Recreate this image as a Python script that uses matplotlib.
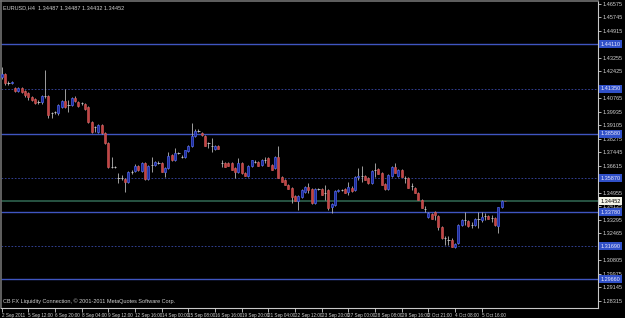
import numpy as np
import matplotlib
matplotlib.use("Agg")
import matplotlib.pyplot as plt
import matplotlib.transforms as mtransforms
from matplotlib import font_manager

plt.rcParams["font.family"] = ["Liberation Sans", "DejaVu Sans"]

# EURUSD H4 candles
opens = [1.4208, 1.4227, 1.4172, 1.4172, 1.4141, 1.4122, 1.4141, 1.4122, 1.4110, 1.4085,
         1.4073, 1.4055, 1.4055, 1.4092, 1.4092, 1.3987, 1.3993, 1.3987, 1.4024, 1.4061,
         1.4036, 1.4036, 1.4079, 1.4055, 1.4049, 1.4042, 1.4024, 1.3932, 1.3901, 1.3870,
         1.3913, 1.3864, 1.3802, 1.3655, 1.3655, 1.3587, 1.3587, 1.3581, 1.3563, 1.3624,
         1.3630, 1.3661, 1.3630, 1.3679, 1.3581, 1.3667, 1.3667, 1.3679, 1.3679, 1.3624,
         1.3649, 1.3729, 1.3698, 1.3741, 1.3716, 1.3716, 1.3753, 1.3784, 1.3846, 1.3876,
         1.3864, 1.3846, 1.3802, 1.3784, 1.3766, 1.3784, 1.3679, 1.3679, 1.3679, 1.3679,
         1.3649, 1.3624, 1.3679, 1.3618, 1.3600, 1.3661, 1.3686, 1.3686, 1.3667, 1.3698,
         1.3710, 1.3667, 1.3649, 1.3716, 1.3593, 1.3575, 1.3544, 1.3526, 1.3477, 1.3446,
         1.3470, 1.3501, 1.3532, 1.3520, 1.3434, 1.3520, 1.3520, 1.3495, 1.3513, 1.3409,
         1.3421, 1.3507, 1.3513, 1.3520, 1.3501, 1.3526, 1.3513, 1.3593, 1.3600, 1.3600,
         1.3587, 1.3557, 1.3636, 1.3643, 1.3618, 1.3550, 1.3520, 1.3600, 1.3655, 1.3600,
         1.3636, 1.3587, 1.3587, 1.3538, 1.3526, 1.3495, 1.3452, 1.3397, 1.3347, 1.3366,
         1.3378, 1.3354, 1.3286, 1.3218, 1.3206, 1.3206, 1.3163, 1.3188, 1.3298, 1.3329,
         1.3323, 1.3298, 1.3298, 1.3335, 1.3329, 1.3354, 1.3354, 1.3341, 1.3341, 1.3292,
         1.3409, 1.34487]
highs = [1.4270, 1.4233, 1.4184, 1.4184, 1.4147, 1.4147, 1.4147, 1.4129, 1.4116, 1.4092,
         1.4079, 1.4067, 1.4098, 1.4252, 1.4098, 1.3993, 1.3999, 1.4042, 1.4067, 1.4135,
         1.4067, 1.4085, 1.4092, 1.4061, 1.4055, 1.4049, 1.4030, 1.3938, 1.3907, 1.3919,
         1.3919, 1.3870, 1.3809, 1.3716, 1.3661, 1.3618, 1.3606, 1.3587, 1.3630, 1.3636,
         1.3673, 1.3667, 1.3686, 1.3686, 1.3667, 1.3716, 1.3692, 1.3692, 1.3686, 1.3655,
         1.3747, 1.3735, 1.3772, 1.3747, 1.3729, 1.3759, 1.3790, 1.3925, 1.3889, 1.3889,
         1.3870, 1.3852, 1.3809, 1.3833, 1.3790, 1.3790, 1.3698, 1.3686, 1.3686, 1.3686,
         1.3655, 1.3710, 1.3686, 1.3624, 1.3667, 1.3698, 1.3698, 1.3692, 1.3704, 1.3716,
         1.3716, 1.3673, 1.3722, 1.3784, 1.3600, 1.3581, 1.3550, 1.3532, 1.3483, 1.3483,
         1.3520, 1.3538, 1.3557, 1.3526, 1.3526, 1.3526, 1.3526, 1.3544, 1.3520, 1.3434,
         1.3513, 1.3520, 1.3520, 1.3526, 1.3563, 1.3538, 1.3600, 1.3649, 1.3661, 1.3606,
         1.3593, 1.3636, 1.3679, 1.3649, 1.3624, 1.3557, 1.3612, 1.3661, 1.3679, 1.3643,
         1.3643, 1.3600, 1.3593, 1.3557, 1.3532, 1.3501, 1.3458, 1.3415, 1.3378, 1.3372,
         1.3384, 1.3360, 1.3292, 1.3231, 1.3231, 1.3218, 1.3188, 1.3304, 1.3335, 1.3378,
         1.3329, 1.3317, 1.3341, 1.3378, 1.3378, 1.3372, 1.3360, 1.3360, 1.3347, 1.3409,
         1.3452, 1.34487]
lows = [1.4196, 1.4159, 1.4159, 1.4165, 1.4116, 1.4116, 1.4110, 1.4085, 1.4067, 1.4061,
        1.4042, 1.4042, 1.4042, 1.4079, 1.3956, 1.3956, 1.3981, 1.3975, 1.4018, 1.4018,
        1.3993, 1.4030, 1.4055, 1.4024, 1.4036, 1.4005, 1.3925, 1.3864, 1.3870, 1.3864,
        1.3858, 1.3796, 1.3649, 1.3649, 1.3649, 1.3557, 1.3575, 1.3501, 1.3557, 1.3612,
        1.3624, 1.3630, 1.3624, 1.3575, 1.3575, 1.3624, 1.3661, 1.3673, 1.3624, 1.3593,
        1.3643, 1.3692, 1.3692, 1.3735, 1.3710, 1.3710, 1.3747, 1.3778, 1.3839, 1.3870,
        1.3846, 1.3784, 1.3772, 1.3747, 1.3759, 1.3766, 1.3655, 1.3655, 1.3661, 1.3636,
        1.3587, 1.3618, 1.3612, 1.3600, 1.3593, 1.3655, 1.3679, 1.3661, 1.3661, 1.3679,
        1.3661, 1.3636, 1.3643, 1.3587, 1.3563, 1.3544, 1.3520, 1.3434, 1.3446, 1.3390,
        1.3464, 1.3495, 1.3495, 1.3427, 1.3427, 1.3513, 1.3483, 1.3452, 1.3390, 1.3372,
        1.3415, 1.3501, 1.3507, 1.3495, 1.3483, 1.3501, 1.3507, 1.3575, 1.3563, 1.3575,
        1.3550, 1.3550, 1.3593, 1.3612, 1.3544, 1.3513, 1.3513, 1.3593, 1.3618, 1.3593,
        1.3593, 1.3557, 1.3526, 1.3513, 1.3495, 1.3452, 1.3403, 1.3378, 1.3341, 1.3335,
        1.3329, 1.3267, 1.3212, 1.3175, 1.3175, 1.3163, 1.3157, 1.3181, 1.3292, 1.3298,
        1.3286, 1.3280, 1.3292, 1.3280, 1.3317, 1.3329, 1.3335, 1.3317, 1.3292, 1.3249,
        1.3403, 1.34432]
closes = [1.4227, 1.4172, 1.4172, 1.4178, 1.4122, 1.4141, 1.4116, 1.4098, 1.4085, 1.4067,
          1.4049, 1.4055, 1.4092, 1.4092, 1.3975, 1.3987, 1.3993, 1.4036, 1.4061, 1.4024,
          1.4036, 1.4079, 1.4061, 1.4030, 1.4049, 1.4012, 1.3932, 1.3870, 1.3901, 1.3913,
          1.3864, 1.3802, 1.3655, 1.3655, 1.3655, 1.3587, 1.3587, 1.3563, 1.3624, 1.3624,
          1.3661, 1.3636, 1.3679, 1.3581, 1.3661, 1.3667, 1.3686, 1.3679, 1.3624, 1.3649,
          1.3722, 1.3698, 1.3741, 1.3741, 1.3716, 1.3759, 1.3784, 1.3846, 1.3876, 1.3876,
          1.3852, 1.3784, 1.3802, 1.3784, 1.3784, 1.3766, 1.3679, 1.3655, 1.3661, 1.3636,
          1.3624, 1.3679, 1.3618, 1.3600, 1.3661, 1.3698, 1.3686, 1.3661, 1.3698, 1.3698,
          1.3661, 1.3636, 1.3716, 1.3587, 1.3563, 1.3544, 1.3520, 1.3470, 1.3446, 1.3477,
          1.3513, 1.3532, 1.3513, 1.3434, 1.3520, 1.3520, 1.3483, 1.3495, 1.3403, 1.3427,
          1.3507, 1.3513, 1.3513, 1.3495, 1.3532, 1.3507, 1.3593, 1.3600, 1.3600, 1.3575,
          1.3557, 1.3630, 1.3636, 1.3612, 1.3544, 1.3520, 1.3606, 1.3655, 1.3618, 1.3636,
          1.3593, 1.3587, 1.3526, 1.3538, 1.3495, 1.3452, 1.3403, 1.3397, 1.3372, 1.3335,
          1.3360, 1.3286, 1.3218, 1.3218, 1.3206, 1.3163, 1.3181, 1.3298, 1.3329, 1.3329,
          1.3292, 1.3298, 1.3335, 1.3335, 1.3347, 1.3354, 1.3335, 1.3341, 1.3298, 1.3409,
          1.3446, 1.34452]

time_labels = ["2 Sep 2011", "5 Sep 12:00", "6 Sep 20:00", "8 Sep 04:00", "9 Sep 12:00",
               "12 Sep 16:00", "14 Sep 00:00", "15 Sep 08:00", "16 Sep 16:00", "19 Sep 20:00",
               "21 Sep 04:00", "22 Sep 12:00", "23 Sep 20:00", "27 Sep 00:00", "28 Sep 08:00",
               "29 Sep 16:00", "2 Oct 21:00", "4 Oct 08:00", "5 Oct 16:00"]
bars_per_label = 8

price_ticks = [1.46575, 1.45745, 1.44915, 1.44085, 1.43255, 1.42425, 1.41595, 1.40765,
               1.39935, 1.39105, 1.38275, 1.37445, 1.36615, 1.35785, 1.34955, 1.34125,
               1.33295, 1.32465, 1.31635, 1.30805, 1.29975, 1.29145, 1.28315]

solid_levels = [1.4411, 1.3858, 1.3378, 1.2966]
dashed_levels = [1.4135, 1.3587, 1.3169]
bid_price = 1.34452
header = "EURUSD,H4  1.34487 1.34487 1.34432 1.34452"
footer = "CB FX Liquidity Connection, \u00a9 2001-2011 MetaQuotes Software Corp."

o = np.array(opens); h = np.array(highs); l = np.array(lows); c = np.array(closes)
x = np.arange(len(o))
fs = 4.0

# narrow face for the time scale if it is there
names = {f.name for f in font_manager.fontManager.ttflist}
if "Liberation Sans Narrow" in names:
    time_font, time_fs = "Liberation Sans Narrow", 3.8
else:
    time_font, time_fs = "Liberation Sans", 3.3

fig = plt.figure(figsize=(6.25, 3.18), dpi=100, facecolor="black")
ax = fig.add_axes([1 / 625, 10 / 318, 597 / 625, 307 / 318], facecolor="black")

# levels
for lv in solid_levels:
    ax.axhline(lv, color="#3f55c0", lw=1.0, zorder=1)
for lv in dashed_levels:
    ax.axhline(lv, color="#3a4aa8", lw=0.6, ls=(0, (2, 2)), zorder=1)
ax.axhline(bid_price, color="#2b5a48", lw=1.3, zorder=1)

# candles
ax.vlines(x, l, h, color="#b8b8b8", lw=0.6, zorder=2)
up = c > o
down = c < o
flat = c == o
ax.bar(x[up], (c - o)[up], bottom=o[up], width=0.66, color="#1c2a9a",
       edgecolor="#4c62e8", lw=0.5, zorder=3)
ax.bar(x[down], (c - o)[down], bottom=o[down], width=0.66, color="#c24444",
       edgecolor="#d85a5a", lw=0.4, zorder=3)
ax.hlines(o[flat], x[flat] - 0.35, x[flat] + 0.35, color="#c8c8c8", lw=0.6, zorder=3)

ax.set_xlim(-0.21, 178.9)
ax.set_ylim(1.27878, 1.46758)

# axes look
for s in ["left", "top"]:
    ax.spines[s].set_color("#707070")
    ax.spines[s].set_linewidth(1.2)
for s in ["right", "bottom"]:
    ax.spines[s].set_color("#c8c8c8")
    ax.spines[s].set_linewidth(0.8)

# price scale: skip the labels hidden under the level boxes
levels_all = solid_levels + dashed_levels + [bid_price]
shown = [p for p in price_ticks if min(abs(p - lv) for lv in levels_all) > 0.0028]
ax.yaxis.tick_right()
ax.set_yticks(price_ticks, [f"{p:.5f}" if p in shown else "" for p in price_ticks])
ax.tick_params(axis="y", colors="#d0d0d0", labelsize=fs, length=2, width=0.6, pad=1.2)
xt = [i * bars_per_label for i in range(len(time_labels))]
ax.set_xticks(xt, time_labels, ha="left", family=[time_font, "DejaVu Sans"])
ax.tick_params(axis="x", colors="#d0d0d0", labelsize=time_fs, length=3, width=0.6, pad=0.5)

trans = mtransforms.blended_transform_factory(ax.transAxes, ax.transData)
for lv in solid_levels + dashed_levels:
    ax.text(1.004, lv, f"{lv:.4f}0", transform=trans, fontsize=fs, color="#e8e8ff",
            va="center", ha="left", clip_on=False, zorder=10,
            bbox=dict(boxstyle="square,pad=0.3", fc="#3050c8", ec="none"))
ax.text(1.004, bid_price, f"{bid_price:.5f}", transform=trans, fontsize=fs, color="black",
        va="center", ha="left", clip_on=False, zorder=10,
        bbox=dict(boxstyle="square,pad=0.3", fc="#f4f4e8", ec="none"))

ax.text(0.004, 0.985, header, transform=ax.transAxes, fontsize=fs, color="#d0d0d0",
        va="top", ha="left")
ax.text(0.004, 0.012, footer, transform=ax.transAxes, fontsize=fs, color="#d0d0d0",
        va="bottom", ha="left")

fig.savefig("out.png", dpi=100, facecolor="black")
